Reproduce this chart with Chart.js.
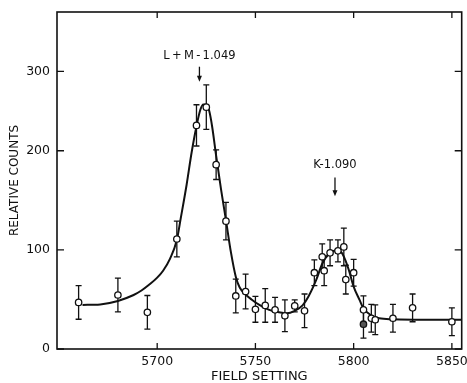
<!DOCTYPE html>
<html>
<head>
<meta charset="utf-8">
<script src="https://cdn.jsdelivr.net/npm/chart.js@4.4.1/dist/chart.umd.min.js"></script>
<style>
  html, body { margin: 0; padding: 0; background: #fff; }
  canvas { display: block; }
</style>
</head>
<body>
<canvas id="chart" width="467" height="383"></canvas>
<script>
// measured points
const fieldSetting = [5660, 5680, 5695, 5710, 5720, 5725, 5730, 5735, 5740, 5745, 5750, 5755, 5760, 5765, 5770, 5775,
                      5780, 5784, 5785, 5788, 5792, 5795, 5796, 5800, 5805, 5805, 5809, 5811, 5820, 5830, 5850];
const counts       = [47, 54.5, 37, 111, 232, 255, 186, 129, 53.5, 58, 40, 44, 39.5, 33.5, 43.5, 38.5,
                      77, 93, 79, 97, 99, 103, 70, 77, 39.5, 25, 31, 29.5, 31, 41.5, 27.5];
const countErr     = [17, 17, 17, 18, 26, 28, 15, 19, 17, 17.5, 13, 17, 12.5, 16, 6, 17,
                      13, 13, 15, 13, 11, 19, 14.5, 13.5, 14, 14, 14, 15, 14, 14, 14];

// fitted curve
const fitField  = [5662, 5671, 5680, 5688, 5692, 5696, 5700, 5703, 5706.5, 5710, 5712, 5715, 5717.5, 5720, 5722,
                   5723.5, 5725, 5726.5, 5728, 5730, 5732.5, 5735, 5737.5, 5740, 5742, 5745, 5748, 5752, 5757,
                   5762, 5766, 5770, 5774, 5777, 5781, 5784, 5787.5, 5791, 5793.5, 5795.5, 5797.5, 5800, 5803,
                   5805, 5808.5, 5813, 5820, 5835, 5855];
const fitCounts = [44.5, 45, 48.5, 54.5, 59, 65, 72, 79, 91, 110, 132, 166, 198, 231, 252,
                   258.5, 258, 250, 230, 195, 161, 130, 98, 73, 62, 55, 50, 44.5, 39.5,
                   37, 36, 38.5, 44, 53, 70, 86, 96, 99.5, 98, 91, 80, 63, 49.5,
                   41, 34.5, 31, 30, 29.5, 29.5];

const xTicks = [5700, 5750, 5800, 5850];
const yTicks = [0, 100, 200, 300];

const notes = [
  { text: 'L\u2009+\u2009M\u2009-\u20091.049', x: 5721.5, labelY: 320, from: 306, to: 287 },
  { text: 'K-1.090', x: 5790.5, labelY: 186, from: 173, to: 154 },
];

// the printed axis is squeezed above 200
const warp   = v => v <= 200 ? v : 200 + (v - 200) * 0.8;
const unwarp = w => w <= 200 ? w : 200 + (w - 200) / 0.8;

class WarpedScale extends Chart.LinearScale {
  static id = 'warped';
  static defaults = Chart.LinearScale.defaults;
  getPixelForValue(v) { return super.getPixelForValue(warp(v)); }
  getValueForPixel(p) { return unwarp(super.getValueForPixel(p)); }
}
Chart.register(WarpedScale);

Chart.defaults.font.family = '"DejaVu Sans", sans-serif';
Chart.defaults.color = '#111';

const ink = '#111';

const decorations = {
  id: 'decorations',
  beforeDatasetsDraw(chart) {
    const { ctx, scales: { x, y } } = chart;
    ctx.save();
    ctx.strokeStyle = ink;
    ctx.lineWidth = 1.3;
    fieldSetting.forEach((f, i) => {
      const px  = x.getPixelForValue(f);
      const top = y.getPixelForValue(counts[i] + countErr[i]);
      const bot = y.getPixelForValue(counts[i] - countErr[i]);
      ctx.beginPath();
      ctx.moveTo(px, top);     ctx.lineTo(px, bot);
      ctx.moveTo(px - 3, top); ctx.lineTo(px + 3, top);
      ctx.moveTo(px - 3, bot); ctx.lineTo(px + 3, bot);
      ctx.stroke();
    });
    ctx.restore();
  },
  afterDraw(chart) {
    const { ctx, chartArea: a, scales: { x, y } } = chart;
    ctx.save();
    ctx.strokeStyle = ink;
    ctx.lineWidth = 1.6;
    ctx.strokeRect(a.left, a.top, a.right - a.left, a.bottom - a.top);

    // inward ticks on all four sides
    ctx.lineWidth = 1.3;
    ctx.beginPath();
    xTicks.forEach(v => {
      const px = x.getPixelForValue(v);
      ctx.moveTo(px, a.bottom); ctx.lineTo(px, a.bottom - 6);
      ctx.moveTo(px, a.top);    ctx.lineTo(px, a.top + 6);
    });
    yTicks.forEach(v => {
      const py = y.getPixelForValue(v);
      ctx.moveTo(a.left, py);  ctx.lineTo(a.left + 7, py);
      ctx.moveTo(a.right, py); ctx.lineTo(a.right - 7, py);
    });
    ctx.stroke();

    // peak labels with arrows
    ctx.fillStyle = ink;
    ctx.font = '11.5px "DejaVu Sans"';
    ctx.textAlign = 'center';
    ctx.textBaseline = 'middle';
    notes.forEach(n => {
      const px = x.getPixelForValue(n.x);
      ctx.fillText(n.text, px, y.getPixelForValue(n.labelY));
      const y0 = y.getPixelForValue(n.from);
      const y1 = y.getPixelForValue(n.to);
      ctx.lineWidth = 1.3;
      ctx.beginPath();
      ctx.moveTo(px, y0); ctx.lineTo(px, y1 - 4);
      ctx.stroke();
      ctx.beginPath();
      ctx.moveTo(px - 2.5, y1 - 6); ctx.lineTo(px + 2.5, y1 - 6); ctx.lineTo(px, y1);
      ctx.closePath();
      ctx.fill();
    });
    ctx.restore();
  }
};

new Chart(document.getElementById('chart'), {
  type: 'scatter',
  data: {
    datasets: [
      {
        data: fieldSetting.map((f, i) => ({ x: f, y: counts[i] })),
        pointRadius: 3.2,
        pointBorderWidth: 1.3,
        pointBorderColor: ink,
        pointBackgroundColor: counts.map((c, i) => i === 25 ? '#555' : '#fff'),
      },
      {
        data: fitField.map((f, i) => ({ x: f, y: fitCounts[i] })),
        showLine: true,
        borderColor: ink,
        borderWidth: 2,
        pointRadius: 0,
        cubicInterpolationMode: 'monotone',
      }
    ]
  },
  options: {
    responsive: false,
    animation: false,
    layout: { padding: { left: 0, top: 12, right: 5, bottom: 0 } },
    plugins: { legend: { display: false }, tooltip: { enabled: false } },
    scales: {
      x: {
        type: 'linear',
        min: 5649,
        max: 5855,
        afterBuildTicks: s => { s.ticks = s.ticks.filter(t => xTicks.includes(t.value)); },
        afterFit: s => { s.height = 34; s.paddingLeft = 0; s.paddingRight = 0; },
        grid: { display: false, drawTicks: false },
        border: { display: false },
        ticks: { stepSize: 50, padding: 5, autoSkip: false, maxRotation: 0, includeBounds: false,
                 font: { size: 12.5 }, callback: v => String(v) },
        title: { display: true, text: 'FIELD SETTING', font: { size: 13, lineHeight: 1 }, padding: 0 },
      },
      y: {
        type: 'warped',
        min: 0,
        max: 340,
        afterFit: s => { s.width = 57; s.paddingTop = 0; s.paddingBottom = 0; },
        grid: { display: false, drawTicks: false },
        border: { display: false },
        ticks: { stepSize: 100, padding: 7, includeBounds: false, font: { size: 12.5 }, callback: v => String(v) },
        title: { display: true, text: 'RELATIVE COUNTS', font: { size: 12 }, padding: { top: 8, bottom: 0 } },
      }
    }
  },
  plugins: [decorations]
});
</script>
</body>
</html>
